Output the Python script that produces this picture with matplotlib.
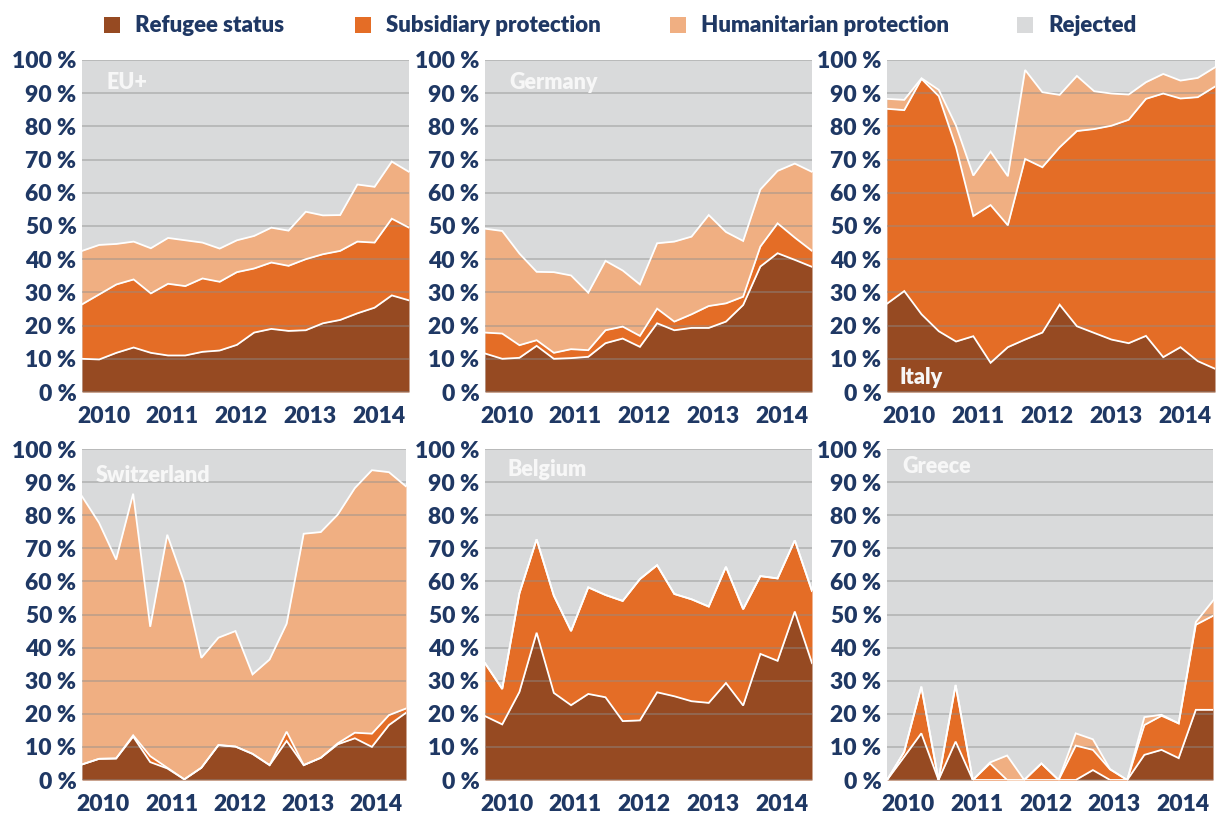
import numpy as np
import matplotlib.pyplot as plt
from matplotlib.patches import Rectangle

# quarterly shares of first instance decisions, 2010 Q1 - 2014 Q4 (percent)
quarters = np.arange(20)
years = ['2010', '2011', '2012', '2013', '2014']
pct_ticks = [0, 10, 20, 30, 40, 50, 60, 70, 80, 90, 100]

categories = ['Refugee status', 'Subsidiary protection', 'Humanitarian protection', 'Rejected']
countries = ['EU+', 'Germany', 'Italy', 'Switzerland', 'Belgium', 'Greece']

eu_refugee = [10, 9.8, 11.8, 13.4, 11.8, 11, 11, 12.1, 12.5, 14.2, 17.9, 19, 18.4, 18.6, 20.7, 21.7, 23.7, 25.4, 29.1, 27.6]
eu_subsidiary = [16.4, 19.6, 20.6, 20.5, 17.9, 21.6, 20.9, 22.1, 20.7, 21.9, 19.3, 20, 19.6, 21.4, 20.8, 20.8, 21.6, 19.6, 23.1, 21.9]
eu_humanitarian = [16.1, 14.9, 12.2, 11.4, 13.6, 13.8, 13.8, 10.8, 10, 9.6, 9.8, 10.5, 10.6, 14.3, 11.7, 10.8, 17.2, 16.8, 17.2, 16.8]

de_refugee = [11.6, 10, 10.3, 13.9, 10, 10.2, 10.6, 14.7, 16.1, 13.6, 20.7, 18.6, 19.3, 19.3, 21.2, 26.2, 37.8, 41.8, 39.8, 37.7]
de_subsidiary = [6.3, 7.6, 3.8, 1.7, 1.8, 2.7, 2.0, 3.9, 3.6, 3.3, 4.4, 2.6, 4.1, 6.6, 5.5, 2.5, 6.0, 9.0, 6.7, 4.8]
de_humanitarian = [31.3, 30.9, 27.6, 20.6, 24.3, 22.2, 17.3, 20.9, 16.9, 15.5, 19.7, 24.1, 23.4, 27.4, 21.5, 16.8, 17.2, 15.8, 22.3, 23.8]

it_refugee = [26.6, 30.4, 23.4, 18.3, 15.2, 16.8, 8.8, 13.5, 15.8, 17.9, 26.3, 19.8, 17.8, 15.8, 14.7, 16.9, 10.5, 13.5, 9.3, 7]
it_subsidiary = [58.7, 54.5, 70.9, 70.8, 58.5, 36.2, 47.5, 36.7, 54.4, 49.8, 47.4, 58.8, 61.4, 64.4, 67.3, 71.4, 79.4, 74.9, 79.5, 85.0]
it_humanitarian = [3.0, 3.1, 0.2, 1.9, 6.5, 12.2, 16.1, 14.8, 26.8, 22.6, 15.8, 16.6, 11.4, 9.7, 7.6, 5.0, 5.9, 5.4, 5.8, 5.8]

ch_refugee = [4.7, 6.4, 6.5, 13.1, 5.4, 3.5, 0.2, 3.7, 10.5, 10.1, 7.9, 4.5, 11.8, 4.5, 6.7, 10.8, 12.6, 10, 16.6, 20.3]
ch_subsidiary = [0, 0, 0, 0.4, 1.8, 0.2, 0, 0, 0.1, 0, 0, 0, 2.8, 0, 0, 0.3, 1.7, 4.0, 3.0, 1.3]
ch_humanitarian = [81.0, 71.3, 60.1, 73.0, 39.1, 70.4, 59.4, 33.2, 32.4, 34.9, 24.0, 31.9, 32.6, 69.9, 68.2, 69.1, 73.9, 79.6, 73.4, 67.1]

be_refugee = [19.3, 16.8, 26.6, 44.5, 26.3, 22.6, 26, 25, 17.8, 18, 26.5, 25.3, 23.8, 23.3, 29.3, 22.5, 38.1, 36, 50.9, 35.3]
be_subsidiary = [16.0, 10.7, 29.8, 28.2, 29.4, 22.4, 32.2, 30.9, 36.3, 42.7, 38.4, 30.9, 30.8, 29.1, 35.1, 29.1, 23.5, 24.9, 21.5, 21.8]
be_humanitarian = [0] * 20

gr_refugee = [0, 7, 14.1, 0, 11.6, 0, 0, 0, 0, 0, 0, 0, 3, 0, 0, 7.6, 9.1, 6.6, 21.2, 21.2]
gr_subsidiary = [0, 1.5, 14.1, 0, 17.1, 0, 5.0, 0, 0, 5.0, 0, 10.4, 6.1, 3.2, 0, 9.0, 10.3, 10.5, 25.7, 28.4]
gr_humanitarian = [0, 0, 0, 0, 0, 0, 0.3, 7.4, 0, 0, 0, 3.7, 3.2, 0.1, 0, 2.4, 0.3, 0, 0.8, 4.6]

colors = ['#964A22', '#E46D26', '#F0AF82', '#D9DADB']
text_color = '#1F3864'

W, H = 1217, 813

# axes rectangles in pixels: left, top, width, height
panel_px = [
    (82, 60, 327, 332), (485, 60, 327, 332), (887, 60, 328, 332),
    (82, 449, 324, 331), (485, 449, 327, 331), (887, 449, 326, 331),
]
# where the country name sits inside each panel (axes fraction, baseline)
label_pos = [(0.076, 0.913), (0.075, 0.912), (0.037, 0.023),
             (0.043, 0.901), (0.070, 0.919), (0.046, 0.927)]


def plot_panel(ax, name, layers, label_xy):
    ax.set_facecolor(colors[3])
    bottom = np.zeros(len(quarters))
    tops = []
    for i, layer in enumerate(layers):
        top = bottom + np.array(layer)
        ax.fill_between(quarters, bottom, top, color=colors[i], lw=0, zorder=1)
        tops.append(top)
        bottom = top
    # white separators between the layers
    for top in tops:
        ax.plot(quarters, top, color='white', lw=1.3, zorder=3, solid_joinstyle='miter')

    ax.set_xlim(0, 19)
    ax.set_ylim(0, 100)
    ax.set_yticks(pct_ticks)
    ax.set_yticklabels([f'{v} %' for v in pct_ticks])
    ax.set_xticks([1.25 + 4 * k for k in range(len(years))])
    ax.set_xticklabels(years)
    ax.tick_params(axis='y', length=0, pad=4, labelsize=16.5, labelcolor=text_color)
    ax.tick_params(axis='x', length=0, pad=10, labelsize=16.5, labelcolor=text_color)
    ax.set_axisbelow(False)
    ax.grid(axis='y', color='#8E8E8E', alpha=0.5, lw=1.2)
    for s in ax.spines.values():
        s.set_visible(False)

    ax.text(label_xy[0], label_xy[1], name, transform=ax.transAxes, color='#F7F7F7',
            fontsize=15.5, fontweight='heavy', va='baseline', ha='left', zorder=4)


def main():
    plt.rcParams['font.family'] = ['Lato', 'DejaVu Sans']
    plt.rcParams['font.weight'] = 'heavy'

    fig = plt.figure(figsize=(W / 100, H / 100), dpi=100)

    data = [
        (eu_refugee, eu_subsidiary, eu_humanitarian),
        (de_refugee, de_subsidiary, de_humanitarian),
        (it_refugee, it_subsidiary, it_humanitarian),
        (ch_refugee, ch_subsidiary, ch_humanitarian),
        (be_refugee, be_subsidiary, be_humanitarian),
        (gr_refugee, gr_subsidiary, gr_humanitarian),
    ]

    for name, layers, (l, t, w, h), lxy in zip(countries, data, panel_px, label_pos):
        ax = fig.add_axes([l / W, 1 - (t + h) / H, w / W, h / H])
        plot_panel(ax, name, layers, lxy)

    # legend row on top, drawn in pixel coordinates
    leg = fig.add_axes([0, 0, 1, 1], zorder=-1)
    leg.set_xlim(0, W)
    leg.set_ylim(H, 0)
    leg.axis('off')
    square_x = [104, 355, 670, 1017]
    for x, cat, c in zip(square_x, categories, colors):
        leg.add_patch(Rectangle((x, 17), 16, 16, color=c, lw=0))
        leg.text(x + 31, 25, cat, color=text_color, fontsize=16, fontweight='heavy',
                 va='center', ha='left')

    fig.savefig('out.png', dpi=100)
    plt.close(fig)


if __name__ == '__main__':
    main()
